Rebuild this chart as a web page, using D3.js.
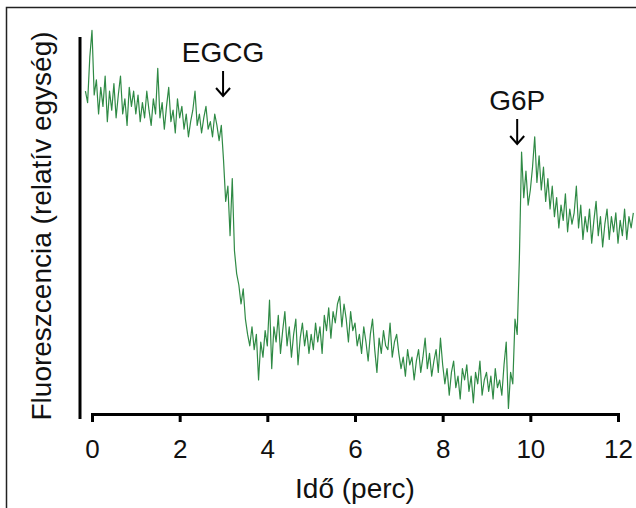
<!DOCTYPE html>
<html>
<head>
<meta charset="utf-8">
<script src="https://cdn.jsdelivr.net/npm/d3@7"></script>
<style>
  body { margin: 0; background: #fff; }
  text { font-family: Arial, "Liberation Sans", sans-serif; fill: #111; }
</style>
</head>
<body>
<svg width="636" height="508"></svg>
<script>
// sampling of the trace (minutes)
var tStart = -0.15, tStep = 0.05;

// fluorescence, relative units
var fluor = [
  86, 83, 95,
  // 0 - 1 min
  102, 85, 89, 80, 87, 82, 90, 78, 86, 81, 88, 79, 85, 90, 80, 84, 77, 87, 82, 86,
  // 1 - 2
  80, 85, 78, 83, 79, 86, 81, 77, 84, 80, 92, 79, 83, 76, 82, 87, 78, 81, 75, 84,
  // 2 - 3
  79, 82, 76, 80, 74, 78, 81, 86, 77, 80, 75, 79, 82, 76, 78, 74, 80, 77, 73, 77,
  // 3 - 4 (EGCG)
  68, 57, 61, 48, 63, 44, 38, 35, 30, 34, 26, 22, 19, 24, 18, 22, 10, 20, 16, 23,
  // 4 - 5
  19, 31, 13, 24, 20, 27, 17, 23, 28, 19, 24, 16, 22, 26, 14, 21, 25, 19, 23, 17,
  // 5 - 6
  22, 18, 25, 20, 24, 17, 27, 23, 29, 21, 28, 25, 30, 32, 24, 30, 26, 20, 28, 23,
  // 6 - 7
  25, 19, 22, 17, 24, 20, 15, 22, 26, 18, 12, 21, 17, 23, 19, 18, 25, 16, 20, 22,
  // 7 - 8
  17, 13, 16, 11, 18, 14, 16, 10, 15, 18, 12, 16, 21, 13, 17, 11, 15, 18, 12, 21,
  // 8 - 9
  14, 9, 13, 6, 12, 15, 8, 11, 5, 13, 10, 14, 7, 11, 4, 12, 9, 15, 6, 10,
  // 9 - 10 (G6P)
  12, 7, 11, 5, 13, 8, 10, 6, 14, 20, 2.5, 12, 9, 26, 22, 42, 70, 58, 65, 56,
  // 10 - 11
  60, 66, 74, 62, 69, 60, 66, 57, 63, 55, 61, 53, 58, 50, 56, 52, 59, 49, 55, 51,
  // 11 - 12
  54, 61, 50, 56, 47, 53, 49, 55, 46, 52, 57, 48, 53, 45, 51, 55, 47, 53, 49, 54,
  // 12 -
  46, 52, 48, 55, 47, 53, 50, 54
];

var xTicks = [0, 2, 4, 6, 8, 10, 12];
var events = [
  {label: "EGCG", t: 2.99, top: 40},
  {label: "G6P", t: 9.7, top: 88}
];

var svg = d3.select("svg");

var x = d3.scaleLinear().domain([0, 12]).range([92, 618]);
var y = d3.scaleLinear().domain([0, 100]).range([418, 38]);

var trace = fluor.map(function(v, i) {
  return {t: tStart + i * tStep, v: v};
});

// frame round the figure
svg.append("path")
  .attr("d", "M6.5,508V7.5H636")
  .attr("fill", "none")
  .attr("stroke", "#222")
  .attr("stroke-width", 1.5);

// y axis: plain bar, no ticks
svg.append("line")
  .attr("x1", 80).attr("x2", 80)
  .attr("y1", y(100) - 1).attr("y2", 419)
  .attr("stroke", "#000")
  .attr("stroke-width", 3);

// x axis
var xAxis = svg.append("g")
  .attr("transform", "translate(0,414)")
  .call(d3.axisBottom(x).tickValues(xTicks).tickSize(8).tickSizeOuter(8).tickPadding(18)
    .tickFormat(d3.format("d")));
xAxis.select(".domain").attr("stroke", "#000").attr("stroke-width", 3);
xAxis.selectAll(".tick line").attr("stroke", "#000").attr("stroke-width", 3);
xAxis.selectAll(".tick text")
  .style("font-family", "Arial, 'Liberation Sans', sans-serif")
  .style("font-size", "26px")
  .attr("fill", "#111");

// trace
var line = d3.line()
  .x(function(d) { return x(d.t); })
  .y(function(d) { return y(d.v); });

svg.append("path")
  .datum(trace)
  .attr("d", line)
  .attr("fill", "none")
  .attr("stroke", "#2f8a45")
  .attr("stroke-width", 1.2)
  .attr("stroke-linejoin", "round");

// additions
var ev = svg.selectAll(".event").data(events).enter().append("g")
  .attr("class", "event")
  .attr("transform", function(d) { return "translate(" + x(d.t) + "," + d.top + ")"; });

ev.append("text")
  .attr("text-anchor", "middle")
  .attr("y", 22)
  .style("font-size", "28px")
  .text(function(d) { return d.label; });

ev.append("line")
  .attr("x1", 0).attr("x2", 0)
  .attr("y1", 31).attr("y2", 56)
  .attr("stroke", "#000")
  .attr("stroke-width", 2);

ev.append("path")
  .attr("d", "M-7,48L0,56L7,48")
  .attr("fill", "none")
  .attr("stroke", "#000")
  .attr("stroke-width", 2);

// axis titles
svg.append("text")
  .attr("x", 355)
  .attr("y", 498)
  .attr("text-anchor", "middle")
  .style("font-size", "28px")
  .text("Idő (perc)");

svg.append("text")
  .attr("transform", "translate(51,226) rotate(-90)")
  .attr("text-anchor", "middle")
  .style("font-size", "28px")
  .text("Fluoreszcencia (relatív egység)");
</script>
</body>
</html>
